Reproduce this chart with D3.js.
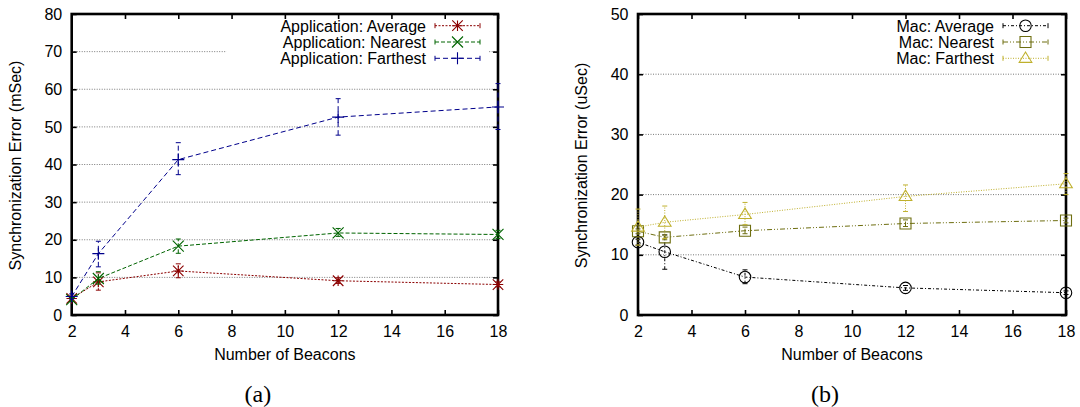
<!DOCTYPE html>
<html>
<head>
<meta charset="utf-8">
<title>Synchronization error vs number of beacons</title>
<script src="https://cdn.jsdelivr.net/npm/d3@7"></script>
<style>
body{margin:0;background:#fff;}
svg{display:block;font-family:"Liberation Sans",Arial,Helvetica,sans-serif;}
</style>
</head>
<body>
<script>

// shared x values + tick labels
const beacons = [2, 3, 6, 12, 18];
const xTicks = [2, 4, 6, 8, 10, 12, 14, 16, 18];
const yTicksApp = [0, 10, 20, 30, 40, 50, 60, 70, 80];
const yTicksMac = [0, 10, 20, 30, 40, 50];

// (a) application level, mSec
const appAvg     = [4.4, 8.8, 11.7, 9.1, 8.1];
const appAvgLo   = [3.8, 6.6, 9.9, 8.4, 7.5];
const appAvgHi   = [5.0, 11.2, 13.6, 9.9, 8.8];
const appNear    = [4.1, 9.7, 18.3, 21.8, 21.4];
const appNearLo  = [3.6, 8.2, 16.4, 20.9, 20.3];
const appNearHi  = [4.7, 11.5, 20.2, 23.0, 22.5];
const appFar     = [4.9, 16.3, 41.3, 52.6, 55.3];
const appFarLo   = [4.2, 12.8, 37.3, 47.8, 49.3];
const appFarHi   = [5.6, 19.6, 45.8, 57.5, 61.5];

// (b) mac level, uSec
const macAvg     = [12.1, 10.5, 6.3, 4.5, 3.7];
const macAvgLo   = [11.6, 7.6, 5.2, 4.1, 3.4];
const macAvgHi   = [12.6, 13.3, 7.5, 4.9, 4.0];
const macNear    = [13.9, 12.9, 14.0, 15.2, 15.7];
const macNearLo  = [13.5, 12.5, 13.5, 14.7, 15.3];
const macNearHi  = [14.3, 13.3, 14.6, 15.8, 16.1];
const macFar     = [14.6, 15.4, 16.7, 19.7, 21.8];
const macFarLo   = [11.6, 12.7, 15.0, 17.2, 20.0];
const macFarHi   = [17.6, 18.1, 18.7, 21.6, 23.5];

const W = 1080, H = 407;
const plotTop = 14, plotBottom = 315;
const fontSize = 16;

// gnuplot style point shapes, size = (full width)^2
const markStar = {draw(c, s){ const r = Math.sqrt(s)/2;
    c.moveTo(-r,0); c.lineTo(r,0); c.moveTo(0,-r); c.lineTo(0,r);
    c.moveTo(-r,-r); c.lineTo(r,r); c.moveTo(-r,r); c.lineTo(r,-r); }};
const markTimes = {draw(c, s){ const r = Math.sqrt(s)/2;
    c.moveTo(-r,-r); c.lineTo(r,r); c.moveTo(-r,r); c.lineTo(r,-r); }};
const markPlus = {draw(c, s){ const r = Math.sqrt(s)/2;
    c.moveTo(-r,0); c.lineTo(r,0); c.moveTo(0,-r); c.lineTo(0,r); }};
const markCircle = {draw(c, s){ const r = Math.sqrt(s)/2;
    c.moveTo(r,0); c.arc(0,0,r,0,2*Math.PI); }};
const markSquare = {draw(c, s){ const r = Math.sqrt(s)/2;
    c.rect(-r,-r,2*r,2*r); }};
const markTri = {draw(c, s){ const r = Math.sqrt(s)/2;
    c.moveTo(0,-r*1.1); c.lineTo(r*1.1,r*0.7); c.lineTo(-r*1.1,r*0.7); c.closePath(); }};

const panels = [
    {x0:71.7, x1:498, yMax:80, yTicks:yTicksApp,
     ytitle:"Synchronization Error (mSec)", caption:"(a)",
     series:[
        {name:"Application: Average", v:appAvg, lo:appAvgLo, hi:appAvgHi, color:"#8b0000", dash:"2,1.5", mark:markStar, ms:10.5},
        {name:"Application: Nearest", v:appNear, lo:appNearLo, hi:appNearHi, color:"#006400", dash:"4,2", mark:markTimes, ms:11},
        {name:"Application: Farthest", v:appFar, lo:appFarLo, hi:appFarHi, color:"#00008b", dash:"5,3", mark:markPlus, ms:12}
     ]},
    {x0:638, x1:1066, yMax:50, yTicks:yTicksMac,
     ytitle:"Synchronization Error (uSec)", caption:"(b)",
     series:[
        {name:"Mac: Average", v:macAvg, lo:macAvgLo, hi:macAvgHi, color:"#000000", dash:"3,2,1,2", mark:markCircle, ms:11.5},
        {name:"Mac: Nearest", v:macNear, lo:macNearLo, hi:macNearHi, color:"#6e6e10", dash:"5,2,1,2,1,2", mark:markSquare, ms:11},
        {name:"Mac: Farthest", v:macFar, lo:macFarLo, hi:macFarHi, color:"#bfb02c", dash:"1,1.5", mark:markTri, ms:11.5}
     ]}
];

const svg = d3.select("body").append("svg")
    .attr("width", W).attr("height", H)
    .attr("font-size", fontSize);

svg.append("rect").attr("width", W).attr("height", H).attr("fill", "#fff");

panels.forEach(drawPanel);

function drawPanel(p){
    const g = svg.append("g");
    const x = d3.scaleLinear().domain([2, 18]).range([p.x0, p.x1]);
    const y = d3.scaleLinear().domain([0, p.yMax]).range([plotBottom, plotTop]);

    // dotted horizontal grid
    g.append("g").selectAll("line")
        .data(p.yTicks.slice(1, -1))
        .join("line")
        .attr("x1", p.x0).attr("x2", p.x1)
        .attr("y1", d => y(d)).attr("y2", d => y(d))
        .attr("stroke", "#7a7a7a")
        .attr("stroke-dasharray", "1,1.5");

    // key: opaque box, sized after the labels are measured
    const keyBox = g.append("rect").attr("fill", "#fff");
    const key = g.append("g");
    const textRight = p.x1 - 72, s0 = p.x1 - 63, s1 = p.x1 - 18;
    const rows = [31.5, 47.8, 64.1];
    let maxLen = 0;
    p.series.forEach((s, i) => {
        const t = key.append("text")
            .attr("x", textRight).attr("y", rows[i])
            .attr("text-anchor", "end")
            .text(s.name);
        maxLen = Math.max(maxLen, t.node().getComputedTextLength());
    });
    keyBox.attr("x", textRight - maxLen - 54).attr("y", plotTop + 3)
        .attr("width", (p.x1 - 9) - (textRight - maxLen - 54))
        .attr("height", 51);

    // axes, ticks pointing inwards on all four sides
    const axB = g.append("g").attr("transform", `translate(0,${plotBottom})`)
        .call(d3.axisBottom(x).tickValues(xTicks).tickSize(-5).tickPadding(10.5));
    const axT = g.append("g").attr("transform", `translate(0,${plotTop})`)
        .call(d3.axisTop(x).tickValues(xTicks).tickSize(-5).tickFormat(""));
    const axL = g.append("g").attr("transform", `translate(${p.x0},0)`)
        .call(d3.axisLeft(y).tickValues(p.yTicks).tickSize(-5).tickPadding(9.5));
    const axR = g.append("g").attr("transform", `translate(${p.x1},0)`)
        .call(d3.axisRight(y).tickValues(p.yTicks).tickSize(-5).tickFormat(""));
    [axB, axT, axL, axR].forEach(a => {
        a.attr("font-size", fontSize).attr("font-family", null);
        a.select(".domain").remove();
        a.selectAll(".tick line").attr("stroke-width", 1.6);
        a.selectAll(".tick text").attr("fill", "#000");
    });

    g.append("rect")
        .attr("x", p.x0).attr("y", plotTop)
        .attr("width", p.x1 - p.x0).attr("height", plotBottom - plotTop)
        .attr("fill", "none").attr("stroke", "#000").attr("stroke-width", 2.6);

    // titles
    g.append("text")
        .attr("x", (p.x0 + p.x1) / 2).attr("y", 360)
        .attr("text-anchor", "middle")
        .text("Number of Beacons");
    g.append("text")
        .attr("transform", `translate(${p.x0 - 51.2},${165.5}) rotate(-90)`)
        .attr("text-anchor", "middle")
        .text(p.ytitle);
    g.append("text")
        .attr("x", (p.x0 + p.x1) / 2 - 27).attr("y", 401.5)
        .attr("text-anchor", "middle")
        .attr("font-family", "'Liberation Serif','DejaVu Serif',serif")
        .attr("font-size", 24)
        .text(p.caption);

    // series
    const line = d3.line().x(d => x(d.x)).y(d => y(d.v));
    p.series.forEach((s, i) => {
        const pts = beacons.map((b, j) => ({x: b, v: s.v[j], lo: s.lo[j], hi: s.hi[j]}));
        const sg = g.append("g").attr("stroke", s.color).attr("fill", "none");

        sg.append("path").datum(pts)
            .attr("d", line)
            .attr("stroke-dasharray", s.dash);

        const eb = sg.append("g").attr("stroke-dasharray", s.dash);
        pts.forEach(d => {
            eb.append("line").attr("x1", x(d.x)).attr("x2", x(d.x))
                .attr("y1", y(d.lo)).attr("y2", y(d.hi));
            [d.lo, d.hi].forEach(e => eb.append("line")
                .attr("x1", x(d.x) - 2.5).attr("x2", x(d.x) + 2.5)
                .attr("y1", y(e)).attr("y2", y(e))
                .attr("stroke-dasharray", "none"));
        });

        const sym = d3.symbol().type(s.mark).size(s.ms * s.ms);
        sg.selectAll(".pt").data(pts).join("path")
            .attr("class", "pt")
            .attr("transform", d => `translate(${x(d.x)},${y(d.v)})`)
            .attr("d", sym)
            .attr("stroke-width", 1.1);

        // key sample
        const ky = rows[i] - 5.8;
        const kg = key.append("g").attr("stroke", s.color).attr("fill", "none");
        kg.append("line").attr("x1", s0).attr("x2", s1).attr("y1", ky).attr("y2", ky)
            .attr("stroke-dasharray", s.dash);
        [s0, s1].forEach(xx => kg.append("line")
            .attr("x1", xx).attr("x2", xx).attr("y1", ky - 2.5).attr("y2", ky + 2.5));
        kg.append("path")
            .attr("transform", `translate(${(s0 + s1) / 2},${ky})`)
            .attr("d", sym())
            .attr("stroke-width", 1.1);
    });
}

</script>
</body>
</html>
